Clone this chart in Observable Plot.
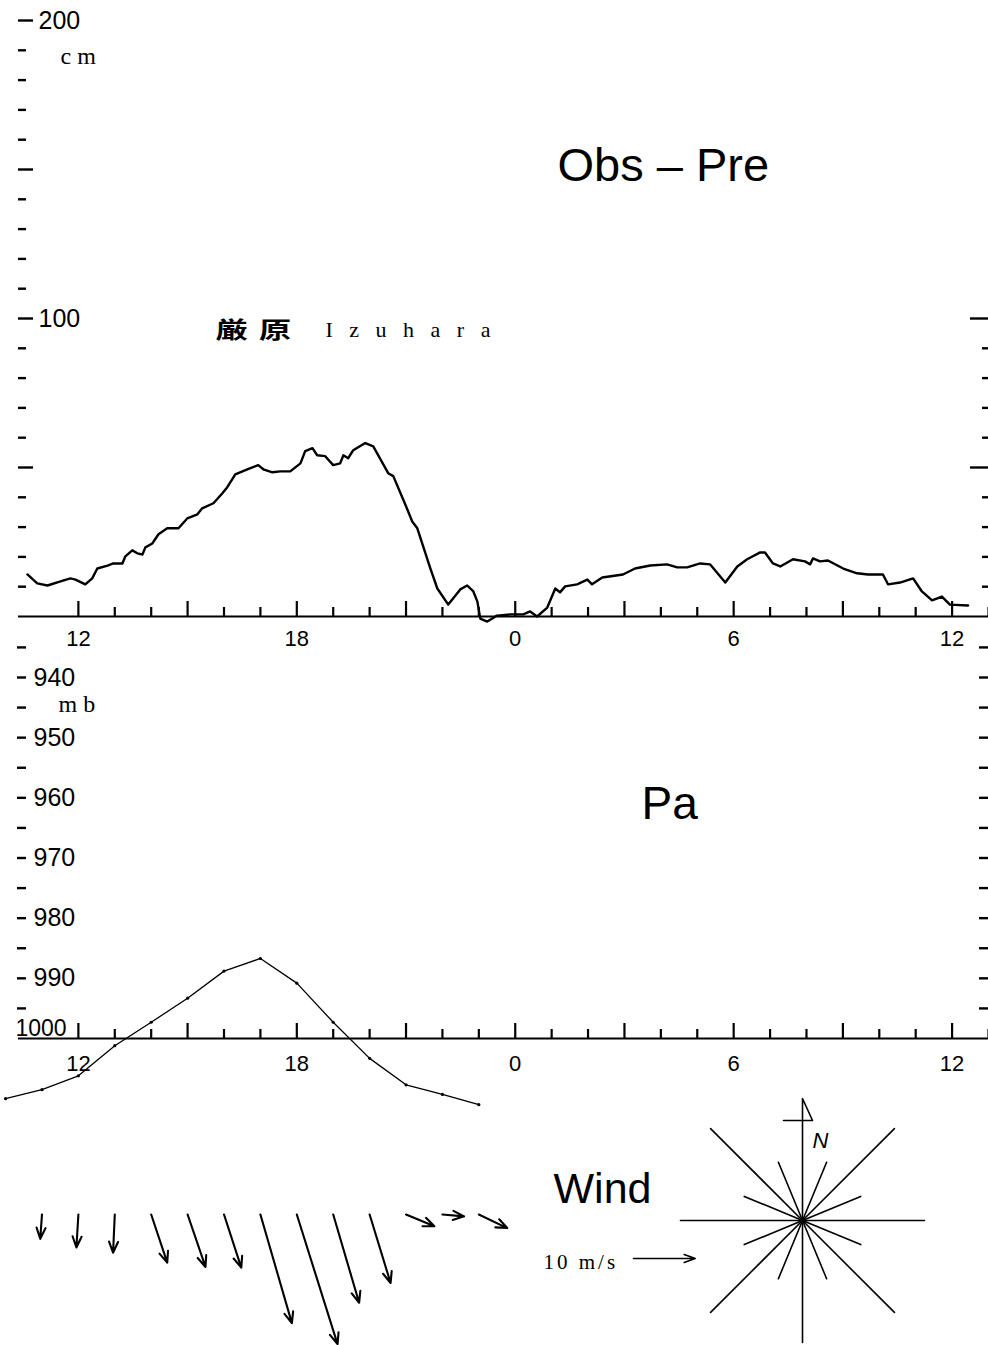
<!DOCTYPE html>
<html>
<head>
<meta charset="utf-8">
<script src="https://cdn.jsdelivr.net/npm/d3@7"></script>
<script src="https://cdn.jsdelivr.net/npm/@observablehq/plot@0.6"></script>
<style>
html, body { margin: 0; padding: 0; background: #fff; overflow: hidden; }
#chart { position: relative; width: 988px; height: 1345px; overflow: hidden; background: #fff; }
#chart svg { position: absolute; left: 0; overflow: visible !important; background: transparent !important; max-width: none !important; }
</style>
</head>
<body>
<div id="chart"></div>
<script>
// ---------------- DATA ----------------
// Observed minus predicted sea level at Izuhara (cm); hours continue past midnight (24 = 0h, 36 = 12h next day)
const obsHours = [10.60,10.87,11.15,11.51,11.78,11.92,12.19,12.38,12.52,12.80,12.96,13.21,13.29,13.48,13.62,13.76,13.84,14.03,14.20,14.44,14.75,14.99,15.27,15.40,15.71,15.95,16.09,16.31,16.64,16.94,17.08,17.33,17.55,17.82,18.10,18.23,18.43,18.56,18.78,19.00,19.19,19.28,19.41,19.55,19.88,20.10,20.51,20.65,20.98,21.17,21.31,21.67,21.86,22.16,22.49,22.68,22.85,22.96,23.04,23.23,23.37,23.50,23.86,24.22,24.41,24.60,24.88,25.10,25.23,25.37,25.70,25.98,26.11,26.39,26.96,27.29,27.71,28.17,28.45,28.72,29.08,29.35,29.77,30.10,30.37,30.73,30.86,31.08,31.28,31.63,31.96,32.10,32.18,32.37,32.59,33.01,33.39,33.69,34.10,34.24,34.57,34.93,35.17,35.45,35.72,35.94,36.44];
const obsCm    = [14.1,11.1,10.4,11.8,12.8,12.4,10.8,12.8,16.1,17.1,17.8,17.8,20.2,22.2,21.2,20.8,23.2,24.5,27.6,29.6,29.6,32.9,34.3,36.3,38.0,41.3,43.4,47.7,49.4,50.8,49.4,48.4,48.7,48.7,51.4,55.5,56.5,54.1,53.8,50.8,51.4,54.1,53.1,55.8,58.2,57.1,48.1,47.1,37.6,31.9,29.6,16.1,9.4,4.0,9.1,10.4,8.4,5.0,-0.7,-1.7,-0.7,0.3,0.7,0.7,1.7,0.0,3.0,9.4,8.1,10.1,10.8,12.4,10.8,13.1,14.1,16.1,17.1,17.5,16.5,16.5,17.8,17.5,11.4,16.8,19.2,21.5,21.5,17.8,16.8,19.2,18.5,17.5,19.5,18.5,18.8,16.1,14.5,14.1,14.1,10.8,11.4,12.8,8.4,5.4,6.7,4.0,3.7];

// Atmospheric pressure Pa (mb), hourly
const paHours = [10,11,12,13,14,15,16,17,18,19,20,21,22,23];
const paMb    = [1010,1008.5,1006.2,1001.2,997.3,993.3,988.8,986.7,990.8,997.3,1003.3,1007.7,1009.3,1011];

// Wind, hourly: eastward (u) and northward (v) components, m/s
const windHours = [11,12,13,14,15,16,17,18,19,20,21,22,23];
const windU = [-0.28,-0.32,-0.28,2.6,2.9,2.8,5.1,6.6,4.2,3.4,4.6,3.5,4.6];
const windV = [-3.94,-5.35,-6.2,-7.8,-8.5,-8.6,-17.6,-21.0,-14.3,-11.1,-1.9,-0.3,-2.2];
const windLegend = [10];

// Axis ticks and labels
const cmTicksMinor = [10,20,30,40,60,70,80,90,110,120,130,140,160,170,180,190];
const cmTicksMajor = [50,100,150,200];
const cmLabels = [100,200];
const cmRightMinor = [10,20,30,40,60,70,80,90];
const cmRightMajor = [50,100];
const mbTicks = [935,940,945,950,955,960,965,970,975,980,985,990,995];
const mbLabels = [940,950,960,970,980,990];
const mbBase = ["1000"];
const hourMajor = [12,15,18,21,24,27,30,33,36];
const hourMinor = [13,14,16,17,19,20,22,23,25,26,28,29,31,32,34,35,37];
const hourLabelPos = [12,18,24,30,36];
const hourLabels = ["12","18","0","6","12"];

// Compass rose directions (degrees clockwise from north)
const roseNorth = [0];
const roseCardinal = [90,180,270];
const roseDiagonal = [45,135,225,315];
const roseMinor = [22.5,67.5,112.5,157.5,202.5,247.5,292.5,337.5];

// ---------------- DRAWING ----------------
const SANS = "'Liberation Sans', Arial, Helvetica, sans-serif";
const SERIF = "'Liberation Serif', 'DejaVu Serif', serif";
const CJK = "'Noto Sans CJK JP', 'Noto Sans CJK SC', sans-serif";
const STYLE = {background: "transparent", overflow: "visible", fontFamily: SANS, color: "black"};
const X = {domain: [10.41, 37.0], axis: null};
const W = 988, ML = 20, FW = W - ML;

const arrowShape = {
  draw(ctx, l) {
    ctx.moveTo(0, 0); ctx.lineTo(0, -l);
    ctx.moveTo(-4.5, -l + 11); ctx.lineTo(0, -l); ctx.lineTo(4.5, -l + 11);
  }
};
const legendArrowShape = {
  draw(ctx, l) {
    ctx.moveTo(0, 0); ctx.lineTo(0, -l);
    ctx.moveTo(-4, -l + 11); ctx.lineTo(0, -l); ctx.lineTo(4, -l + 11);
  }
};
const lineShape = { draw(ctx, l) { ctx.moveTo(0, 0); ctx.lineTo(0, -l); } };
const flagShape = {
  draw(ctx, l) {
    ctx.moveTo(0, 0); ctx.lineTo(0, -l);
    ctx.lineTo(10, -l + 22); ctx.lineTo(-19, -l + 22);
  }
};

// ---- Panel 1: Obs - Pre (cm)
const hA = 650, mtA = 20, mbA = 34, fhA = hA - mtA - mbA;
const panelA = Plot.plot({
  width: W, height: hA, marginLeft: ML, marginRight: 0, marginTop: mtA, marginBottom: mbA,
  x: X, y: {domain: [0, 200], axis: null},
  style: STYLE,
  marks: [
    Plot.ruleY([0], {strokeWidth: 2.2, insetLeft: -2}),
    Plot.tickX(hourMajor, {x: d => d, strokeWidth: 2.2, insetTop: fhA - 15}),
    Plot.tickX(hourMinor, {x: d => d, strokeWidth: 2.2, insetTop: fhA - 9}),
    Plot.tickY(cmTicksMinor, {y: d => d, strokeWidth: 2.4, dx: -2, insetRight: FW - 8}),
    Plot.tickY(cmTicksMajor, {y: d => d, strokeWidth: 2.4, dx: -2, insetRight: FW - 15}),
    Plot.tickY(cmRightMinor, {y: d => d, strokeWidth: 2.4, insetLeft: FW - 6}),
    Plot.tickY(cmRightMajor, {y: d => d, strokeWidth: 2.4, insetLeft: FW - 18}),
    Plot.text(cmLabels, {y: d => d, text: d => String(d), frameAnchor: "left", dx: 18, textAnchor: "start", fontSize: 25, fontFamily: SANS}),
    Plot.text(hourLabels, {x: hourLabelPos, text: hourLabels, frameAnchor: "bottom", dy: 29, lineAnchor: "bottom", fontSize: 22, fontFamily: SANS}),
    Plot.line(obsCm, {x: obsHours, y: obsCm, strokeWidth: 2.4, strokeLinejoin: "round", strokeLinecap: "round"}),
    Plot.text(["cm"], {frameAnchor: "top-left", dx: 40, dy: 43, lineAnchor: "bottom", textAnchor: "start", fontSize: 24, fontFamily: SERIF}),
    Plot.text(["Obs – Pre"], {frameAnchor: "top-left", dx: 537, dy: 160, lineAnchor: "bottom", textAnchor: "start", fontSize: 47, fontFamily: SANS}),
    Plot.text(["厳原"], {frameAnchor: "top-left", dx: 195, dy: 317, lineAnchor: "bottom", textAnchor: "start", fontSize: 23, fontWeight: "bold", fontFamily: CJK}),
    Plot.text(["Izuhara"], {frameAnchor: "top-left", dx: 305, dy: 316, lineAnchor: "bottom", textAnchor: "start", fontSize: 22, fontFamily: SERIF})
  ]
});

// ---- Panel 2: Pa (mb)
const hB = 470, mtB = 27, mbB = 82, fhB = hB - mtB - mbB;
const panelB = Plot.plot({
  width: W, height: hB, marginLeft: ML, marginRight: 0, marginTop: mtB, marginBottom: mbB,
  x: X, y: {domain: [940, 1000], reverse: true, axis: null},
  style: STYLE,
  marks: [
    Plot.ruleY([1000], {strokeWidth: 2.2, insetLeft: -2}),
    Plot.tickX(hourMajor, {x: d => d, strokeWidth: 2.2, insetTop: fhB - 15}),
    Plot.tickX(hourMinor, {x: d => d, strokeWidth: 2.2, insetTop: fhB - 9}),
    Plot.tickY(mbTicks, {y: d => d, strokeWidth: 2.4, dx: -3, insetRight: FW - 9}),
    Plot.tickY(mbTicks, {y: d => d, strokeWidth: 2.4, insetLeft: FW - 9}),
    Plot.text(mbLabels, {y: d => d, text: d => String(d), frameAnchor: "left", dx: 13, textAnchor: "start", fontSize: 25, fontFamily: SANS}),
    Plot.text(mbBase, {frameAnchor: "top-left", dx: -5, dy: fhB - 3, lineAnchor: "bottom", textAnchor: "start", fontSize: 23, fontFamily: SANS}),
    Plot.text(hourLabels, {x: hourLabelPos, text: hourLabels, frameAnchor: "bottom", dy: 32, lineAnchor: "bottom", fontSize: 22, fontFamily: SANS}),
    Plot.line(paMb, {x: paHours, y: paMb, strokeWidth: 1.3}),
    Plot.dot(paMb, {x: paHours, y: paMb, r: 1.6, fill: "black", stroke: null}),
    Plot.text(["mb"], {frameAnchor: "top-left", dx: 38, dy: 34, lineAnchor: "bottom", textAnchor: "start", fontSize: 24, fontFamily: SERIF}),
    Plot.text(["Pa"], {frameAnchor: "top-left", dx: 621, dy: 141, lineAnchor: "bottom", textAnchor: "start", fontSize: 46, fontFamily: SANS})
  ]
});

// ---- Panel 3: Wind
const hC = 225;
const panelC = Plot.plot({
  width: W, height: hC, marginLeft: ML, marginRight: 0, marginTop: 0, marginBottom: 0,
  x: X,
  length: {domain: [0, 10], range: [0, 61.7]},
  style: STYLE,
  marks: [
    Plot.vector(windHours, {
      x: windHours,
      length: (d, i) => Math.hypot(windU[i], windV[i]),
      rotate: (d, i) => Math.atan2(windU[i], windV[i]) * 180 / Math.PI,
      anchor: "start", frameAnchor: "top", dy: 94,
      shape: arrowShape, strokeWidth: 2.1, strokeLinecap: "round"
    }),
    Plot.text(["Wind"], {frameAnchor: "top-left", dx: 533, dy: 82, lineAnchor: "bottom", textAnchor: "start", fontSize: 43, fontFamily: SANS}),
    Plot.text(["10 m/s"], {frameAnchor: "top-left", dx: 523, dy: 148, lineAnchor: "bottom", textAnchor: "start", fontSize: 21, fontFamily: SERIF}),
    Plot.vector(windLegend, {length: d => d, rotate: 90, anchor: "start", frameAnchor: "top-left", dx: 613, dy: 138, shape: legendArrowShape, strokeWidth: 1.6}),
    // compass rose
    Plot.vector(roseNorth, {rotate: d => d, length: 122, anchor: "start", frameAnchor: "top-left", dx: 782, dy: 100, shape: flagShape, strokeWidth: 1.6}),
    Plot.vector(roseCardinal, {rotate: d => d, length: 122, anchor: "start", frameAnchor: "top-left", dx: 782, dy: 100, shape: lineShape, strokeWidth: 1.6}),
    Plot.vector(roseDiagonal, {rotate: d => d, length: 130, anchor: "start", frameAnchor: "top-left", dx: 782, dy: 100, shape: lineShape, strokeWidth: 1.6}),
    Plot.vector(roseMinor, {rotate: d => d, length: 63, anchor: "start", frameAnchor: "top-left", dx: 782, dy: 100, shape: lineShape, strokeWidth: 1.6}),
    Plot.text(["N"], {frameAnchor: "top-left", dx: 792, dy: 27, lineAnchor: "bottom", textAnchor: "start", fontSize: 22, fontStyle: "italic", fontFamily: SANS})
  ]
});

// ---------------- LAYOUT ----------------
const chart = document.getElementById("chart");
[[panelA, 0], [panelB, 650], [panelC, 1120]].forEach(([svg, top]) => {
  svg.style.top = top + "px";
  chart.appendChild(svg);
});

// letter spacing / width for spaced labels (as in the original typesetting)
d3.select(chart).selectAll("text").each(function () {
  const t = this.textContent;
  if (t === "Izuhara") this.setAttribute("letter-spacing", "16.5px");
  if (t === "厳原") {
    this.setAttribute("letter-spacing", "8px");
    const tr = this.getAttribute("transform");
    if (tr) this.setAttribute("transform", tr + " scale(1.4,1)");
  }
  if (t === "cm" || t === "mb") this.setAttribute("letter-spacing", "6px");
  if (t === "10 m/s") this.setAttribute("letter-spacing", "3px");
});
</script>
</body>
</html>
